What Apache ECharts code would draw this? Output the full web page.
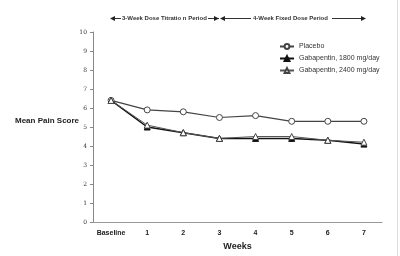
<!DOCTYPE html>
<html><head><meta charset="utf-8">
<script src="https://cdn.jsdelivr.net/npm/echarts@6/dist/echarts.min.js"></script>
<style>html,body{margin:0;padding:0;background:#fff}#c{width:400px;height:256px}</style>
</head><body><div id="c"></div>
<script>
const categories = ['Baseline','1','2','3','4','5','6','7'];
const placebo = [6.4, 5.9, 5.8, 5.5, 5.6, 5.3, 5.3, 5.3];
const gaba1800 = [6.4, 5.0, 4.7, 4.4, 4.4, 4.4, 4.3, 4.1];
const gaba2400 = [6.4, 5.1, 4.7, 4.4, 4.5, 4.5, 4.3, 4.2];
const seriesNames = ['Placebo','Gabapentin, 1800 mg/day','Gabapentin, 2400 mg/day'];
const yTicks = [0,1,2,3,4,5,6,7,8,9,10];

const chart = echarts.init(document.getElementById('c'), null, {renderer:'canvas'});
const txt = {fontFamily:'Arial, Liberation Sans, sans-serif', fontWeight:'bold', fontSize:6, fill:'#333'};
const ln = (x1,x2)=>({type:'line', shape:{x1:x1, y1:18.5, x2:x2, y2:18.5}, style:{stroke:'#333', lineWidth:1}});
const arrowR = (x)=>({type:'polygon', shape:{points:[[x-5,16],[x,18.5],[x-5,21]]}, style:{fill:'#222'}});
const arrowL = (x)=>({type:'polygon', shape:{points:[[x+5,16],[x,18.5],[x+5,21]]}, style:{fill:'#222'}});
chart.setOption({
  animation:false,
  grid:{left:93, right:18, top:32, bottom:31},
  xAxis:{type:'category', data:categories, boundaryGap:true,
    axisLine:{lineStyle:{color:'#999', width:1}}, axisTick:{show:false},
    axisLabel:{color:'#222', fontSize:7, fontWeight:'bold', fontFamily:'Arial', margin:8, interval:0},
    name:'Weeks', nameLocation:'middle', nameGap:20,
    nameTextStyle:{fontSize:9, fontWeight:'bold', color:'#222', fontFamily:'Arial'}},
  yAxis:{type:'value', min:yTicks[0], max:yTicks[yTicks.length-1], interval:1,
    axisLine:{show:true, lineStyle:{color:'#888'}}, axisTick:{show:true, length:3, lineStyle:{color:'#888'}},
    splitLine:{show:false},
    axisLabel:{color:'#333', fontSize:6, fontFamily:'DejaVu Serif, serif', margin:6}},
  legend:{orient:'vertical', left:274, top:38, itemGap:5, itemWidth:14, itemHeight:6,
    textStyle:{fontSize:7, color:'#333', fontFamily:'Arial'},
    data:seriesNames},
  series:[
    {name:seriesNames[0], type:'line', data:placebo, symbol:'circle', symbolSize:6,
      lineStyle:{color:'#444', width:1.2}, itemStyle:{color:'#fff', borderColor:'#444', borderWidth:1}},
    {name:seriesNames[1], type:'line', data:gaba1800, symbol:'triangle', symbolSize:6,
      lineStyle:{color:'#111', width:1.5}, itemStyle:{color:'#111', borderColor:'#111', borderWidth:1}},
    {name:seriesNames[2], type:'line', data:gaba2400, symbol:'triangle', symbolSize:6,
      lineStyle:{color:'#555', width:1}, itemStyle:{color:'#fff', borderColor:'#444', borderWidth:1}}
  ],
  graphic:[
    arrowL(110), ln(114,121),
    {type:'text', left:122, top:15.5, style:Object.assign({text:'3-Week Dose Titratio n Period'}, txt)},
    ln(208,219), arrowR(219), arrowL(220), ln(224,251),
    {type:'text', left:253, top:15.5, style:Object.assign({text:'4-Week Fixed Dose Period'}, txt)},
    ln(332,362), arrowR(366),
    {type:'text', left:15, top:117, style:{text:'Mean Pain Score', fontFamily:'Arial', fontWeight:'bold', fontSize:8, fill:'#222'}},
    {type:'line', shape:{x1:397.5, y1:0, x2:397.5, y2:256}, style:{stroke:'#ddd', lineWidth:1}}
  ]
});
</script></body></html>
